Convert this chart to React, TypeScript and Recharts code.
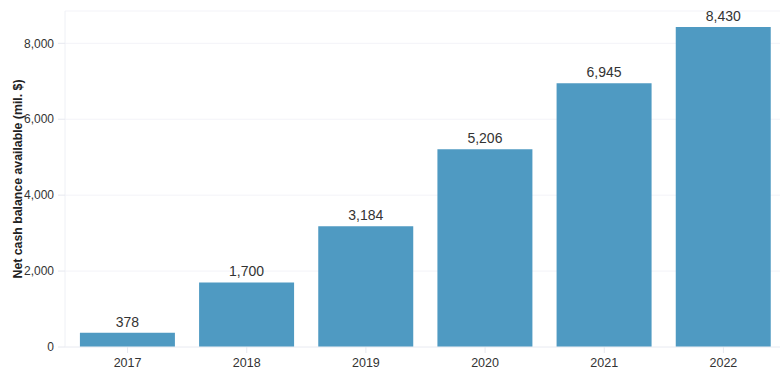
import { BarChart, Bar, XAxis, YAxis, CartesianGrid, LabelList } from "recharts"

const years = ["2017", "2018", "2019", "2020", "2021", "2022"]
const cashBalance = [378, 1700, 3184, 5206, 6945, 8430]
const yTicks = [0, 2000, 4000, 6000, 8000]

const data = years.map((year, i) => ({ year, value: cashBalance[i] }))

const fmt = (v: number) => v.toLocaleString("en-US")

// axis title sits a bit left of the tick labels, centred on the plot
const YTitle = () => (
  <text
    x={18}
    y={179}
    transform="rotate(-90, 18, 179)"
    textAnchor="middle"
    dominantBaseline="central"
    fill="#222"
    fontSize={12}
    fontWeight="bold"
    textLength={199}
    lengthAdjust="spacingAndGlyphs"
  >
    Net cash balance available (mil. $)
  </text>
)

export default function App() {
  return (
    <div
      style={{
        position: "absolute",
        left: 0,
        top: 0,
        width: 780,
        height: 375,
        overflow: "hidden",
        fontFamily: "'Liberation Sans', Arial, sans-serif",
      }}
    >
      <BarChart
        width={780}
        height={375}
        data={data}
        margin={{ top: 11, right: -3, bottom: 6, left: 7 }}
        barCategoryGap="10%"
      >
        <CartesianGrid vertical={false} stroke="#f3f3f8" />
        <XAxis
          dataKey="year"
          stroke="#eef0f5"
          tickLine={{ stroke: "#e6e8ef" }}
          tick={{ fill: "#333", fontSize: 12.5 }}
          tickMargin={5}
          height={22}
          padding={{ left: 3 }}
        />
        <YAxis
          domain={[0, 8851]}
          ticks={yTicks}
          tickFormatter={fmt}
          stroke="#eef0f5"
          tickLine={{ stroke: "#e6e8ef" }}
          tickSize={7}
          tickMargin={4}
          tick={{ fill: "#333", fontSize: 12 }}
          width={58}
          label={<YTitle />}
        />
        <Bar dataKey="value" fill="#4f9ac2" isAnimationActive={false}>
          <LabelList dataKey="value" position="top" formatter={fmt} fill="#333" fontSize={14} offset={6} />
        </Bar>
      </BarChart>
    </div>
  )
}
